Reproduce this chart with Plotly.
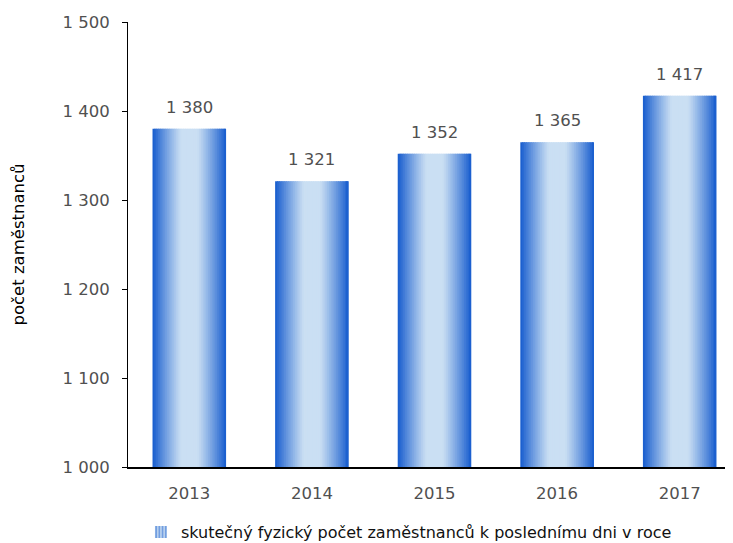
import plotly.graph_objects as go

years = ["2013", "2014", "2015", "2016", "2017"]
employees = [1380, 1321, 1352, 1365, 1417]
series_name = "skutečný fyzický počet zaměstnanců k poslednímu dni v roce"
y_title = "počet zaměstnanců"

FONT = "DejaVu Sans"
FS = 16.5
TXT = "#505050"
DARK = (22, 92, 206)
LIGHT = (202, 223, 243)
BAR_W = 0.6
N = 41

fig = go.Figure()

w = BAR_W / N
for k in range(N):
    t = (k + 0.5) / N
    d = abs(t - 0.5) * 2
    f = max(0.0, (d - 0.22) / 0.78) ** 1.1
    c = tuple(round(LIGHT[i] + (DARK[i] - LIGHT[i]) * f) for i in range(3))
    off = -BAR_W / 2 + k * w
    width = min(w * 1.7, BAR_W / 2 - off)
    fig.add_trace(go.Bar(
        x=years, y=employees, width=width, offset=off,
        marker=dict(color="rgb(%d,%d,%d)" % c, line=dict(width=0)),
        showlegend=False, hoverinfo="skip",
    ))

# legend entry
fig.add_trace(go.Bar(
    x=[None], y=[None], name=series_name,
    marker=dict(color="rgb(200,220,242)",
                pattern=dict(shape="|", fgcolor="rgb(30,95,205)", bgcolor="rgb(200,220,242)",
                             size=4, solidity=0.6),
                line=dict(width=0)),
    showlegend=True,
))

annotations = [
    dict(x=i, y=v, xref="x", yref="y", text=f"{v:,d}".replace(",", " "),
         showarrow=False, yanchor="bottom", yshift=10,
         font=dict(family=FONT, size=FS, color=TXT))
    for i, v in enumerate(employees)
]

fig.update_layout(
    width=733, height=543,
    margin=dict(l=120, r=0, t=14, b=84, autoexpand=False),
    barmode="overlay",
    separators=", ",
    plot_bgcolor="white", paper_bgcolor="white",
    font=dict(family=FONT, size=FS, color=TXT),
    showlegend=True,
    annotations=annotations,
    legend=dict(orientation="h", xref="container", yref="container",
                x=0.547, xanchor="center", y=0.066, yanchor="top",
                font=dict(family=FONT, size=16, color="#111111"),
                itemwidth=30),
    xaxis=dict(type="category", range=[-0.5, 4.5], automargin=False,
               showline=True, linecolor="black", linewidth=1.5,
               ticks="", showgrid=False, ticklabelstandoff=10,
               tickfont=dict(family=FONT, size=FS, color=TXT)),
    yaxis=dict(range=[1000, 1500], dtick=100, tickformat=",d", automargin=False,
               showline=True, linecolor="black", linewidth=1,
               ticks="outside", ticklen=5, tickcolor="black",
               showgrid=False, zeroline=False, ticklabelstandoff=9,
               tickfont=dict(family=FONT, size=FS, color=TXT),
               title=dict(text=y_title, standoff=33,
                          font=dict(family=FONT, size=FS, color="black"))),
)

fig.write_html("out.html")
